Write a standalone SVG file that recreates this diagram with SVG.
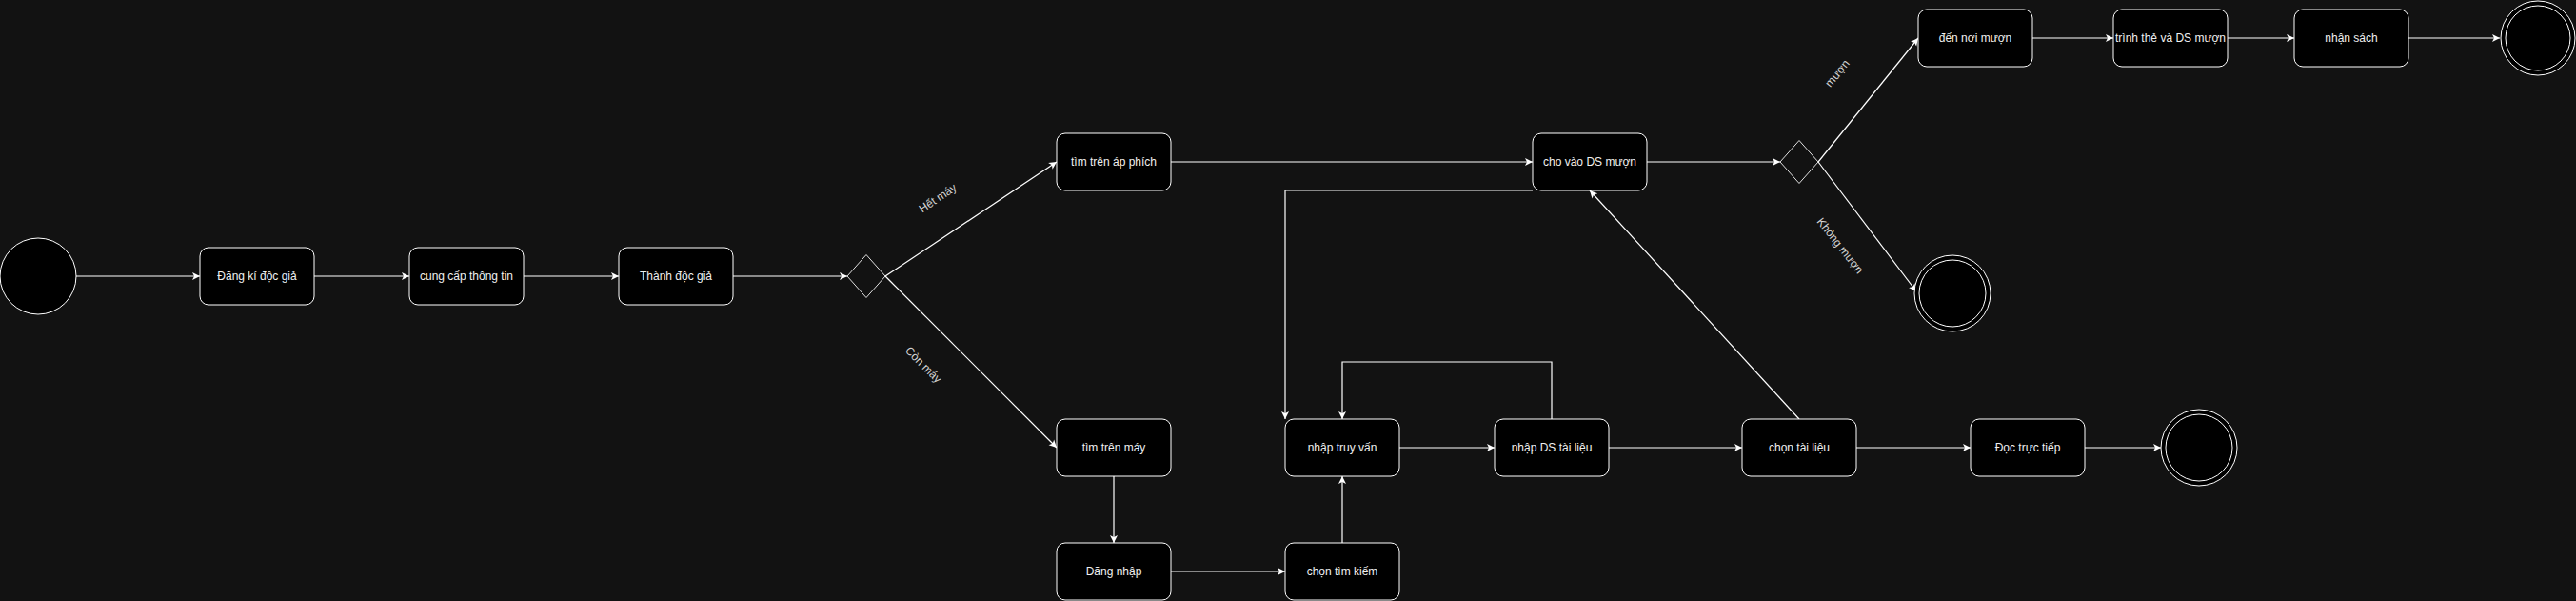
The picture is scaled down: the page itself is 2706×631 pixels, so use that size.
<svg xmlns="http://www.w3.org/2000/svg" width="2706" height="631" viewBox="0 0 2706 631">
<style>
.bg{fill:#121212}
.box{fill:#000;stroke:#fff;stroke-width:1}
.dia{fill:none;stroke:#e0e0e0;stroke-width:1}
.circ{fill:#000;stroke:#fff;stroke-width:1}
.t{font-family:"Liberation Sans",Arial,sans-serif;font-size:12px;fill:#f0f0f0;text-anchor:middle;dominant-baseline:central}
.lbl{font-family:"Liberation Sans",Arial,sans-serif;font-size:12px;fill:#d4d4d4;text-anchor:middle;dominant-baseline:central}
.e{fill:none;stroke:#fff;stroke-width:1.2;marker-end:url(#arr)}
.en{fill:none;stroke:#fff;stroke-width:1.2}
</style>
<defs>
<marker id="arr" markerUnits="userSpaceOnUse" markerWidth="10" markerHeight="10" refX="8" refY="4" orient="auto" viewBox="0 0 10 8">
<path d="M0,0 L8,4 L0,8 L2,4 Z" fill="#fff"/>
</marker>
</defs>
<rect class="bg" x="0" y="0" width="2706" height="631"/>

<g id="connectors">
<path class="e" d="M80,290 L210,290"/>
<path class="e" d="M330,290 L430,290"/>
<path class="e" d="M550,290 L650,290"/>
<path class="e" d="M770,290 L890,290"/>
<path class="e" d="M930,290 L1110,170"/>
<path class="e" d="M930,290 L1110,470"/>
<path class="e" d="M1230,170 L1610,170"/>
<path class="e" d="M1170,500 L1170,570"/>
<path class="e" d="M1230,600 L1350,600"/>
<path class="e" d="M1410,570 L1410,500"/>
<path class="e" d="M1470,470 L1570,470"/>
<path class="e" d="M1630,440 L1630,380 L1410,380 L1410,440"/>
<path class="e" d="M1610,200 L1350,200 L1350,440"/>
<path class="e" d="M1690,470 L1830,470"/>
<path class="e" d="M1890,440 L1670,200"/>
<path class="e" d="M1950,470 L2070,470"/>
<path class="e" d="M2190,470 L2270,470"/>
<path class="e" d="M1730,170 L1870,170"/>
<path class="e" d="M1910,170 L2015,40"/>
<path class="e" d="M1910,170 L2013,306"/>
<path class="e" d="M2135,40 L2220,40"/>
<path class="e" d="M2340,40 L2410,40"/>
<path class="e" d="M2530,40 L2626,40"/>
<text class="lbl" transform="translate(985,208) rotate(-34)">Hết máy</text>
<text class="lbl" transform="translate(970,383) rotate(45)">Còn máy</text>
<text class="lbl" transform="translate(1933,258) rotate(52)">Không mượn</text>
<text class="lbl" transform="translate(1930,77) rotate(-51)">mượn</text>
</g>

<g id="start"><circle class="circ" cx="40" cy="290" r="40"/></g>
<g id="dangki"><rect class="box" x="210" y="260" width="120" height="60" rx="9"/><text class="t" x="270" y="290">Đăng kí độc giả</text></g>
<g id="cungcap"><rect class="box" x="430" y="260" width="120" height="60" rx="9"/><text class="t" x="490" y="290">cung cấp thông tin</text></g>
<g id="thanh"><rect class="box" x="650" y="260" width="120" height="60" rx="9"/><text class="t" x="710" y="290">Thành độc giả</text></g>
<g id="dec1"><path class="dia" d="M910,267.5 L930,290 L910,312.5 L890,290 Z"/></g>
<g id="apphich"><rect class="box" x="1110" y="140" width="120" height="60" rx="9"/><text class="t" x="1170" y="170">tìm trên áp phích</text></g>
<g id="trenmay"><rect class="box" x="1110" y="440" width="120" height="60" rx="9"/><text class="t" x="1170" y="470">tìm trên máy</text></g>
<g id="dangnhap"><rect class="box" x="1110" y="570" width="120" height="60" rx="9"/><text class="t" x="1170" y="600">Đăng nhập</text></g>
<g id="chontimkiem"><rect class="box" x="1350" y="570" width="120" height="60" rx="9"/><text class="t" x="1410" y="600">chọn tìm kiếm</text></g>
<g id="truyvan"><rect class="box" x="1350" y="440" width="120" height="60" rx="9"/><text class="t" x="1410" y="470">nhập truy vấn</text></g>
<g id="dstailieu"><rect class="box" x="1570" y="440" width="120" height="60" rx="9"/><text class="t" x="1630" y="470">nhập DS tài liệu</text></g>
<g id="chontailieu"><rect class="box" x="1830" y="440" width="120" height="60" rx="9"/><text class="t" x="1890" y="470">chọn tài liệu</text></g>
<g id="doctructiep"><rect class="box" x="2070" y="440" width="120" height="60" rx="9"/><text class="t" x="2130" y="470">Đọc trực tiếp</text></g>
<g id="end3"><circle class="circ" cx="2310" cy="470" r="40"/><circle class="circ" cx="2310" cy="470" r="35"/></g>
<g id="chovao"><rect class="box" x="1610" y="140" width="120" height="60" rx="9"/><text class="t" x="1670" y="170">cho vào DS mượn</text></g>
<g id="dec2"><path class="dia" d="M1890,147.5 L1910,170 L1890,192.5 L1870,170 Z"/></g>
<g id="end2"><circle class="circ" cx="2051" cy="308" r="40"/><circle class="circ" cx="2051" cy="308" r="35"/></g>
<g id="dennoi"><rect class="box" x="2015" y="10" width="120" height="60" rx="9"/><text class="t" x="2075" y="40">đến nơi mượn</text></g>
<g id="trinhthe"><rect class="box" x="2220" y="10" width="120" height="60" rx="9"/><text class="t" x="2280" y="40">trình thẻ và DS mượn</text></g>
<g id="nhansach"><rect class="box" x="2410" y="10" width="120" height="60" rx="9"/><text class="t" x="2470" y="40">nhận sách</text></g>
<g id="end1"><circle class="circ" cx="2666" cy="40" r="39"/><circle class="circ" cx="2666" cy="40" r="34"/></g>
</svg>
